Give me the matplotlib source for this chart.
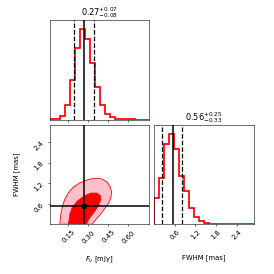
import numpy as np
import matplotlib
matplotlib.use("Agg")
import matplotlib.pyplot as plt

# parameter labels, plot ranges and summary values
labels = ["$F_{\\nu}$ [mJy]", "FWHM [mas]"]
ranges = [(0.01, 0.76), (0.02, 2.90)]
medians = [0.27, 0.56]
err_lo = [0.08, 0.33]
err_hi = [0.07, 0.25]
ticks = [[0.15, 0.30, 0.45, 0.60], [0.6, 1.2, 1.8, 2.4]]

# 1D histogram counts (20 bins across each range)
counts_flux = [0.5, 2, 11, 43, 118, 214, 269, 238, 167, 96,
               44, 18, 7, 3, 2, 1, 0.5, 0, 0, 0]
counts_fwhm = [78, 138, 238, 270, 225, 145, 100, 48, 20, 10,
               5, 2, 1, 0.5, 0.3, 0, 0, 0, 0, 0]

# 2D credible regions (outer = 2 sigma, inner = 1 sigma)
outer_x = [0.085, 0.092, 0.105, 0.125, 0.155, 0.19, 0.23, 0.27, 0.31, 0.355,
           0.40, 0.44, 0.465, 0.475, 0.47, 0.455, 0.425, 0.39, 0.355, 0.33]
outer_y = [0.02, 0.28, 0.55, 0.76, 0.96, 1.10, 1.20, 1.27, 1.32, 1.35,
           1.33, 1.24, 1.10, 0.95, 0.80, 0.65, 0.48, 0.30, 0.15, 0.02]
inner_x = [0.15, 0.16, 0.18, 0.22, 0.27, 0.32, 0.365, 0.39, 0.395, 0.38,
           0.35, 0.31, 0.285]
inner_y = [0.02, 0.30, 0.52, 0.70, 0.84, 0.92, 0.92, 0.85, 0.74, 0.58,
           0.40, 0.20, 0.02]

K = 2
factor = 2.0
lbdim = 0.5 * factor
trdim = 0.2 * factor
whspace = 0.05
plotdim = factor * K + factor * (K - 1.0) * whspace
dim = lbdim + plotdim + trdim

fig, axes = plt.subplots(K, K, figsize=(dim, dim))
lb = lbdim / dim
tr = (lbdim + plotdim) / dim
fig.subplots_adjust(left=lb, bottom=lb, right=tr, top=tr,
                    wspace=whspace, hspace=whspace)

hist_counts = [counts_flux, counts_fwhm]
for i in range(K):
    ax = axes[i, i]
    edges = np.linspace(ranges[i][0], ranges[i][1], len(hist_counts[i]) + 1)
    ax.stairs(hist_counts[i], edges, color="red", lw=2.5)
    ax.set_xlim(ranges[i])
    ax.set_ylim(0, 1.1 * max(hist_counts[i]))
    ax.set_yticks([])
    ax.axvline(medians[i], color="k", lw=2.2)
    ax.axvline(medians[i] - err_lo[i], color="k", ls="--", lw=1.8)
    ax.axvline(medians[i] + err_hi[i], color="k", ls="--", lw=1.8)
    ax.set_title("${0:.2f}_{{-{1:.2f}}}^{{+{2:.2f}}}$".format(
        medians[i], err_lo[i], err_hi[i]))
    ax.set_xticks(ticks[i])
    if i < K - 1:
        ax.set_xticklabels([])
    else:
        for l in ax.get_xticklabels():
            l.set_rotation(45)
        ax.set_xlabel(labels[i])
        ax.xaxis.set_label_coords(0.5, -0.3)

axes[0, 1].set_frame_on(False)
axes[0, 1].set_xticks([])
axes[0, 1].set_yticks([])

ax = axes[1, 0]
ax.fill(outer_x, outer_y, facecolor="pink", edgecolor="red", lw=1.2)
ax.fill(inner_x, inner_y, facecolor="red", edgecolor="red", lw=1.0)
ax.axvline(medians[0], color="k", lw=2.2)
ax.axhline(medians[1], color="k", lw=2.2)
ax.plot(medians[0], medians[1], "s", color="k", ms=6)
ax.set_xlim(ranges[0])
ax.set_ylim(ranges[1])
ax.set_xticks(ticks[0])
ax.set_yticks(ticks[1])
for l in ax.get_xticklabels():
    l.set_rotation(45)
for l in ax.get_yticklabels():
    l.set_rotation(45)
ax.set_xlabel(labels[0])
ax.set_ylabel(labels[1])
ax.xaxis.set_label_coords(0.5, -0.3)
ax.yaxis.set_label_coords(-0.3, 0.5)

plt.savefig("out.png", dpi=274 / dim)
